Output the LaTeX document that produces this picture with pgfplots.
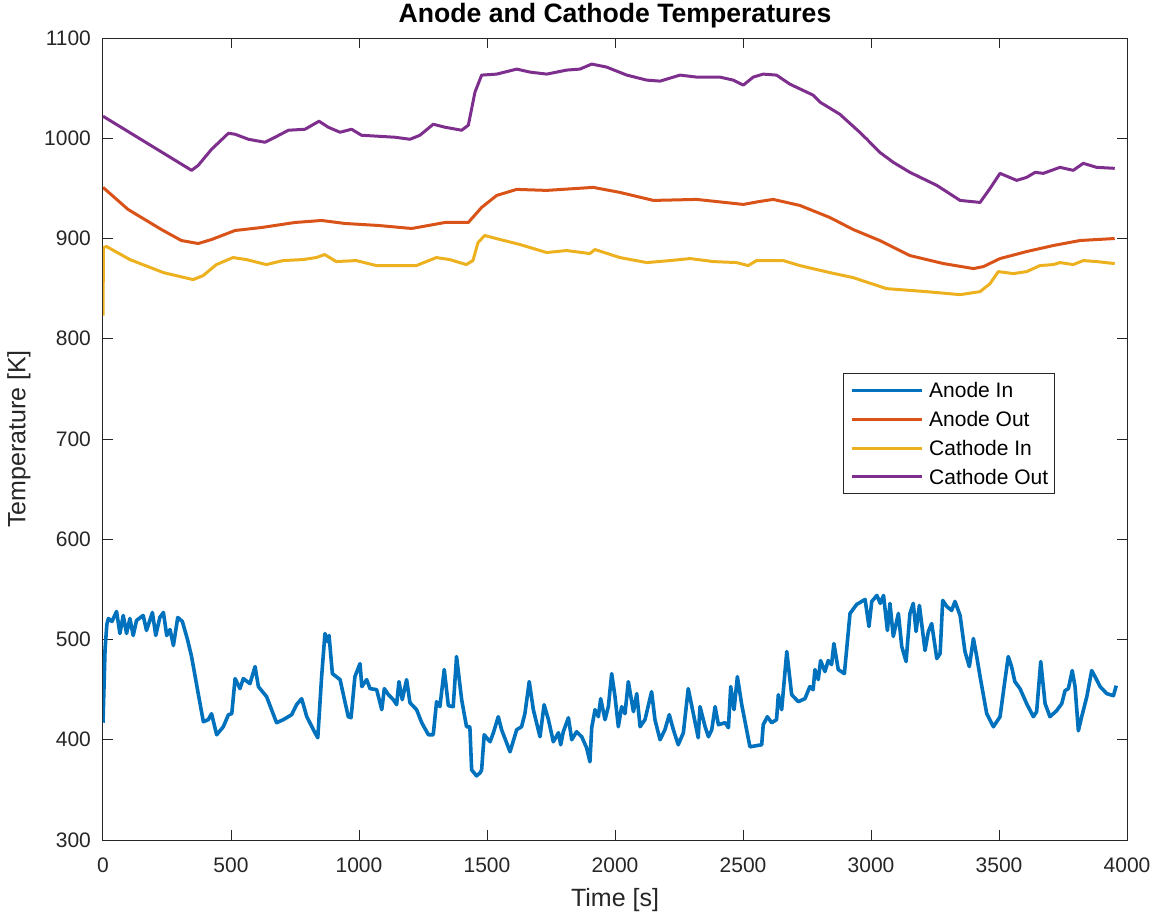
\documentclass[border=0pt]{standalone}
\usepackage{pgfplots}
\pgfplotsset{compat=1.18}
\usepackage{fontspec}
\setmainfont{Liberation Sans}
\definecolor{mA}{rgb}{0,0.447,0.741}
\definecolor{mB}{rgb}{0.85,0.325,0.098}
\definecolor{mC}{rgb}{0.929,0.694,0.125}
\definecolor{mD}{rgb}{0.494,0.184,0.556}
\definecolor{axgray}{rgb}{0.15,0.15,0.15}
\begin{document}
\begin{tikzpicture}
\path[use as bounding box] (-51.5pt,-41pt) rectangle (525.5pt,420pt);
\begin{axis}[
  scale only axis, width=512pt, height=401pt,
  xmin=0, xmax=4000, ymin=300, ymax=1100,
  xtick={0,500,...,4000}, ytick={300,400,...,1100},
  tick align=inside, major tick length=5pt,
  axis line style={axgray, line width=0.5pt},
  every tick/.style={axgray, line width=0.5pt},
  tick label style={font=\fontsize{10.5}{12}\selectfont, text=axgray},
  xticklabel style={yshift=-5.5pt},
  yticklabel style={xshift=-2.5pt},
  /pgf/number format/assume math mode=true,
  /pgf/number format/set thousands separator={},
  title={\bfseries Anode and Cathode Temperatures},
  every axis title/.style={at={([yshift=8pt]axis description cs:0.5,1)}, anchor=base},
  title style={font=\fontsize{13.3}{15}\selectfont},
  xlabel={Time [s]}, ylabel={Temperature [K]},
  every axis x label/.style={at={([yshift=-30pt]axis description cs:0.5,0)}, anchor=center},
  every axis y label/.style={at={([xshift=-42pt]axis description cs:0,0.5)}, anchor=center, rotate=90},
  label style={font=\fontsize{12.5}{14}\selectfont, text=axgray},
  legend style={at={(rel axis cs:0.7227,0.5827)}, anchor=north west,
     font=\fontsize{10.5}{12}\selectfont, draw=axgray, line width=0.5pt,
     inner xsep=3.3pt, inner ysep=1.3pt, row sep=0pt,
     /tikz/every odd column/.append style={column sep=3pt},
     nodes={inner sep=0pt, text height=10.8pt, text depth=3.65pt}},
  legend cell align=left,
  legend image code/.code={\draw[#1, line width=1.5pt] (0pt,0pt) -- (35pt,0pt);},
  every axis plot/.append style={line join=round},
]
\addplot[mA, line width=1.8pt] coordinates {
(0,417)(8,490)(15,515)(21,521)(35,518)(53,528)(66,506)(79,524)(92,506)(105,521)
(118,504)(131,519)(157,524)(170,509)(193,527)(206,504)(222,522)(236,527)(249,504)(262,510)
(275,494)(292,522)(310,518)(330,500)(346,483)(372,446)(392,418)(411,420)(424,426)(444,405)
(470,413)(490,425)(503,426)(516,461)(535,451)(548,461)(574,456)(594,473)(607,453)(639,443)
(678,417)(704,420)(737,425)(756,435)(776,441)(796,423)(828,407)(839,402)(854,463)(867,506)
(876,498)(883,504)(896,466)(926,460)(958,423)(969,422)(984,463)(1004,476)(1011,453)(1030,460)
(1043,451)(1069,450)(1089,430)(1099,451)(1115,445)(1134,440)(1147,435)(1156,458)(1169,440)(1186,460)
(1199,437)(1225,430)(1245,417)(1271,405)(1290,405)(1303,438)(1316,433)(1333,470)(1349,434)(1368,433)
(1381,483)(1401,440)(1420,413)(1433,413)(1440,370)(1459,364)(1473,367)(1479,370)(1489,405)(1505,400)
(1512,398)(1525,407)(1544,423)(1557,410)(1590,388)(1616,410)(1635,413)(1648,426)(1665,458)(1681,430)
(1707,403)(1723,435)(1740,420)(1759,398)(1779,407)(1788,395)(1798,408)(1818,422)(1831,400)(1850,408)
(1870,403)(1889,392)(1902,378)(1909,412)(1922,430)(1935,423)(1944,441)(1961,420)(1974,433)(1987,466)
(2000,443)(2013,413)(2026,433)(2039,426)(2052,458)(2072,428)(2085,446)(2098,413)(2117,420)(2143,448)
(2156,420)(2176,400)(2195,410)(2212,425)(2228,410)(2247,395)(2267,407)(2286,451)(2306,426)(2325,402)
(2332,433)(2352,413)(2365,403)(2378,410)(2391,433)(2404,415)(2430,417)(2443,412)(2452,453)(2465,430)
(2478,463)(2495,435)(2527,393)(2573,395)(2579,415)(2595,423)(2612,417)(2631,420)(2638,445)(2651,430)
(2671,488)(2690,445)(2716,438)(2742,441)(2761,453)(2774,450)(2781,470)(2794,460)(2803,479)(2820,468)
(2833,479)(2846,475)(2855,496)(2872,470)(2896,466)(2918,526)(2944,535)(2977,540)(2992,513)(3003,538)
(3023,544)(3036,536)(3049,544)(3064,509)(3074,536)(3087,503)(3107,526)(3120,493)(3137,478)(3152,526)
(3165,536)(3176,508)(3189,534)(3211,489)(3224,508)(3237,516)(3257,481)(3270,486)(3280,539)(3296,533)
(3315,529)(3328,538)(3348,524)(3367,488)(3384,473)(3400,501)(3413,483)(3426,463)(3452,426)(3478,413)
(3504,423)(3523,459)(3536,483)(3549,473)(3562,458)(3582,451)(3608,436)(3634,423)(3647,428)(3663,478)
(3680,436)(3699,423)(3725,429)(3745,436)(3758,449)(3771,451)(3786,469)(3797,453)(3810,409)(3823,423)
(3843,443)(3862,469)(3875,463)(3895,453)(3921,446)(3947,444)(3958,454)
};
\addlegendentry{Anode In}
\addplot[mB, line width=1.5pt] coordinates {
(0,951)(98,929)(228,909)(306,898)(372,895)(424,899)(516,908)(620,911)(750,916)(854,918)
(945,915)(1076,913)(1206,910)(1336,916)(1427,916)(1479,931)(1538,943)(1616,949)(1733,948)(1915,951)
(2019,946)(2150,938)(2319,939)(2501,934)(2566,937)(2618,939)(2722,933)(2839,921)(2930,909)(3034,898)
(3152,883)(3283,875)(3400,870)(3439,872)(3504,880)(3608,887)(3712,893)(3816,898)(3952,900)
};
\addlegendentry{Anode Out}
\addplot[mC, line width=1.5pt] coordinates {
(0,823)(2,891)(14,892)(105,879)(236,866)(352,859)(391,863)(443,874)(508,881)(560,879)
(638,874)(703,878)(781,879)(833,881)(866,884)(911,877)(989,878)(1068,873)(1146,873)(1224,873)
(1302,881)(1354,879)(1419,874)(1445,878)(1465,896)(1491,903)(1551,899)(1629,894)(1733,886)(1811,888)
(1902,885)(1922,889)(2019,881)(2124,876)(2215,878)(2293,880)(2384,877)(2475,876)(2520,873)(2553,878)
(2618,878)(2657,878)(2722,873)(2839,866)(2930,861)(3061,850)(3217,847)(3348,844)(3426,847)(3465,855)
(3497,867)(3556,865)(3608,867)(3660,873)(3712,874)(3738,876)(3790,874)(3829,878)(3881,877)(3952,875)
};
\addlegendentry{Cathode In}
\addplot[mD, line width=1.5pt] coordinates {
(0,1022)(173,995)(346,968)(372,973)(424,989)(490,1005)(516,1004)(568,999)(633,996)(672,1001)
(724,1008)(789,1009)(844,1017)(880,1011)(926,1006)(971,1009)(1010,1003)(1076,1002)(1141,1001)(1199,999)
(1238,1003)(1290,1014)(1336,1011)(1401,1008)(1427,1013)(1453,1046)(1479,1063)(1538,1064)(1616,1069)(1668,1066)
(1733,1064)(1811,1068)(1863,1069)(1909,1074)(1967,1071)(2046,1063)(2124,1058)(2176,1057)(2254,1063)(2319,1061)
(2410,1061)(2462,1058)(2501,1053)(2540,1061)(2579,1064)(2631,1063)(2683,1054)(2774,1043)(2801,1036)(2878,1024)
(2956,1006)(2984,999)(3034,986)(3087,976)(3152,966)(3257,953)(3348,938)(3426,936)(3465,950)(3504,965)
(3569,958)(3608,961)(3641,966)(3673,965)(3738,971)(3790,968)(3829,975)(3881,971)(3952,970)
};
\addlegendentry{Cathode Out}
\end{axis}
\end{tikzpicture}
\end{document}
